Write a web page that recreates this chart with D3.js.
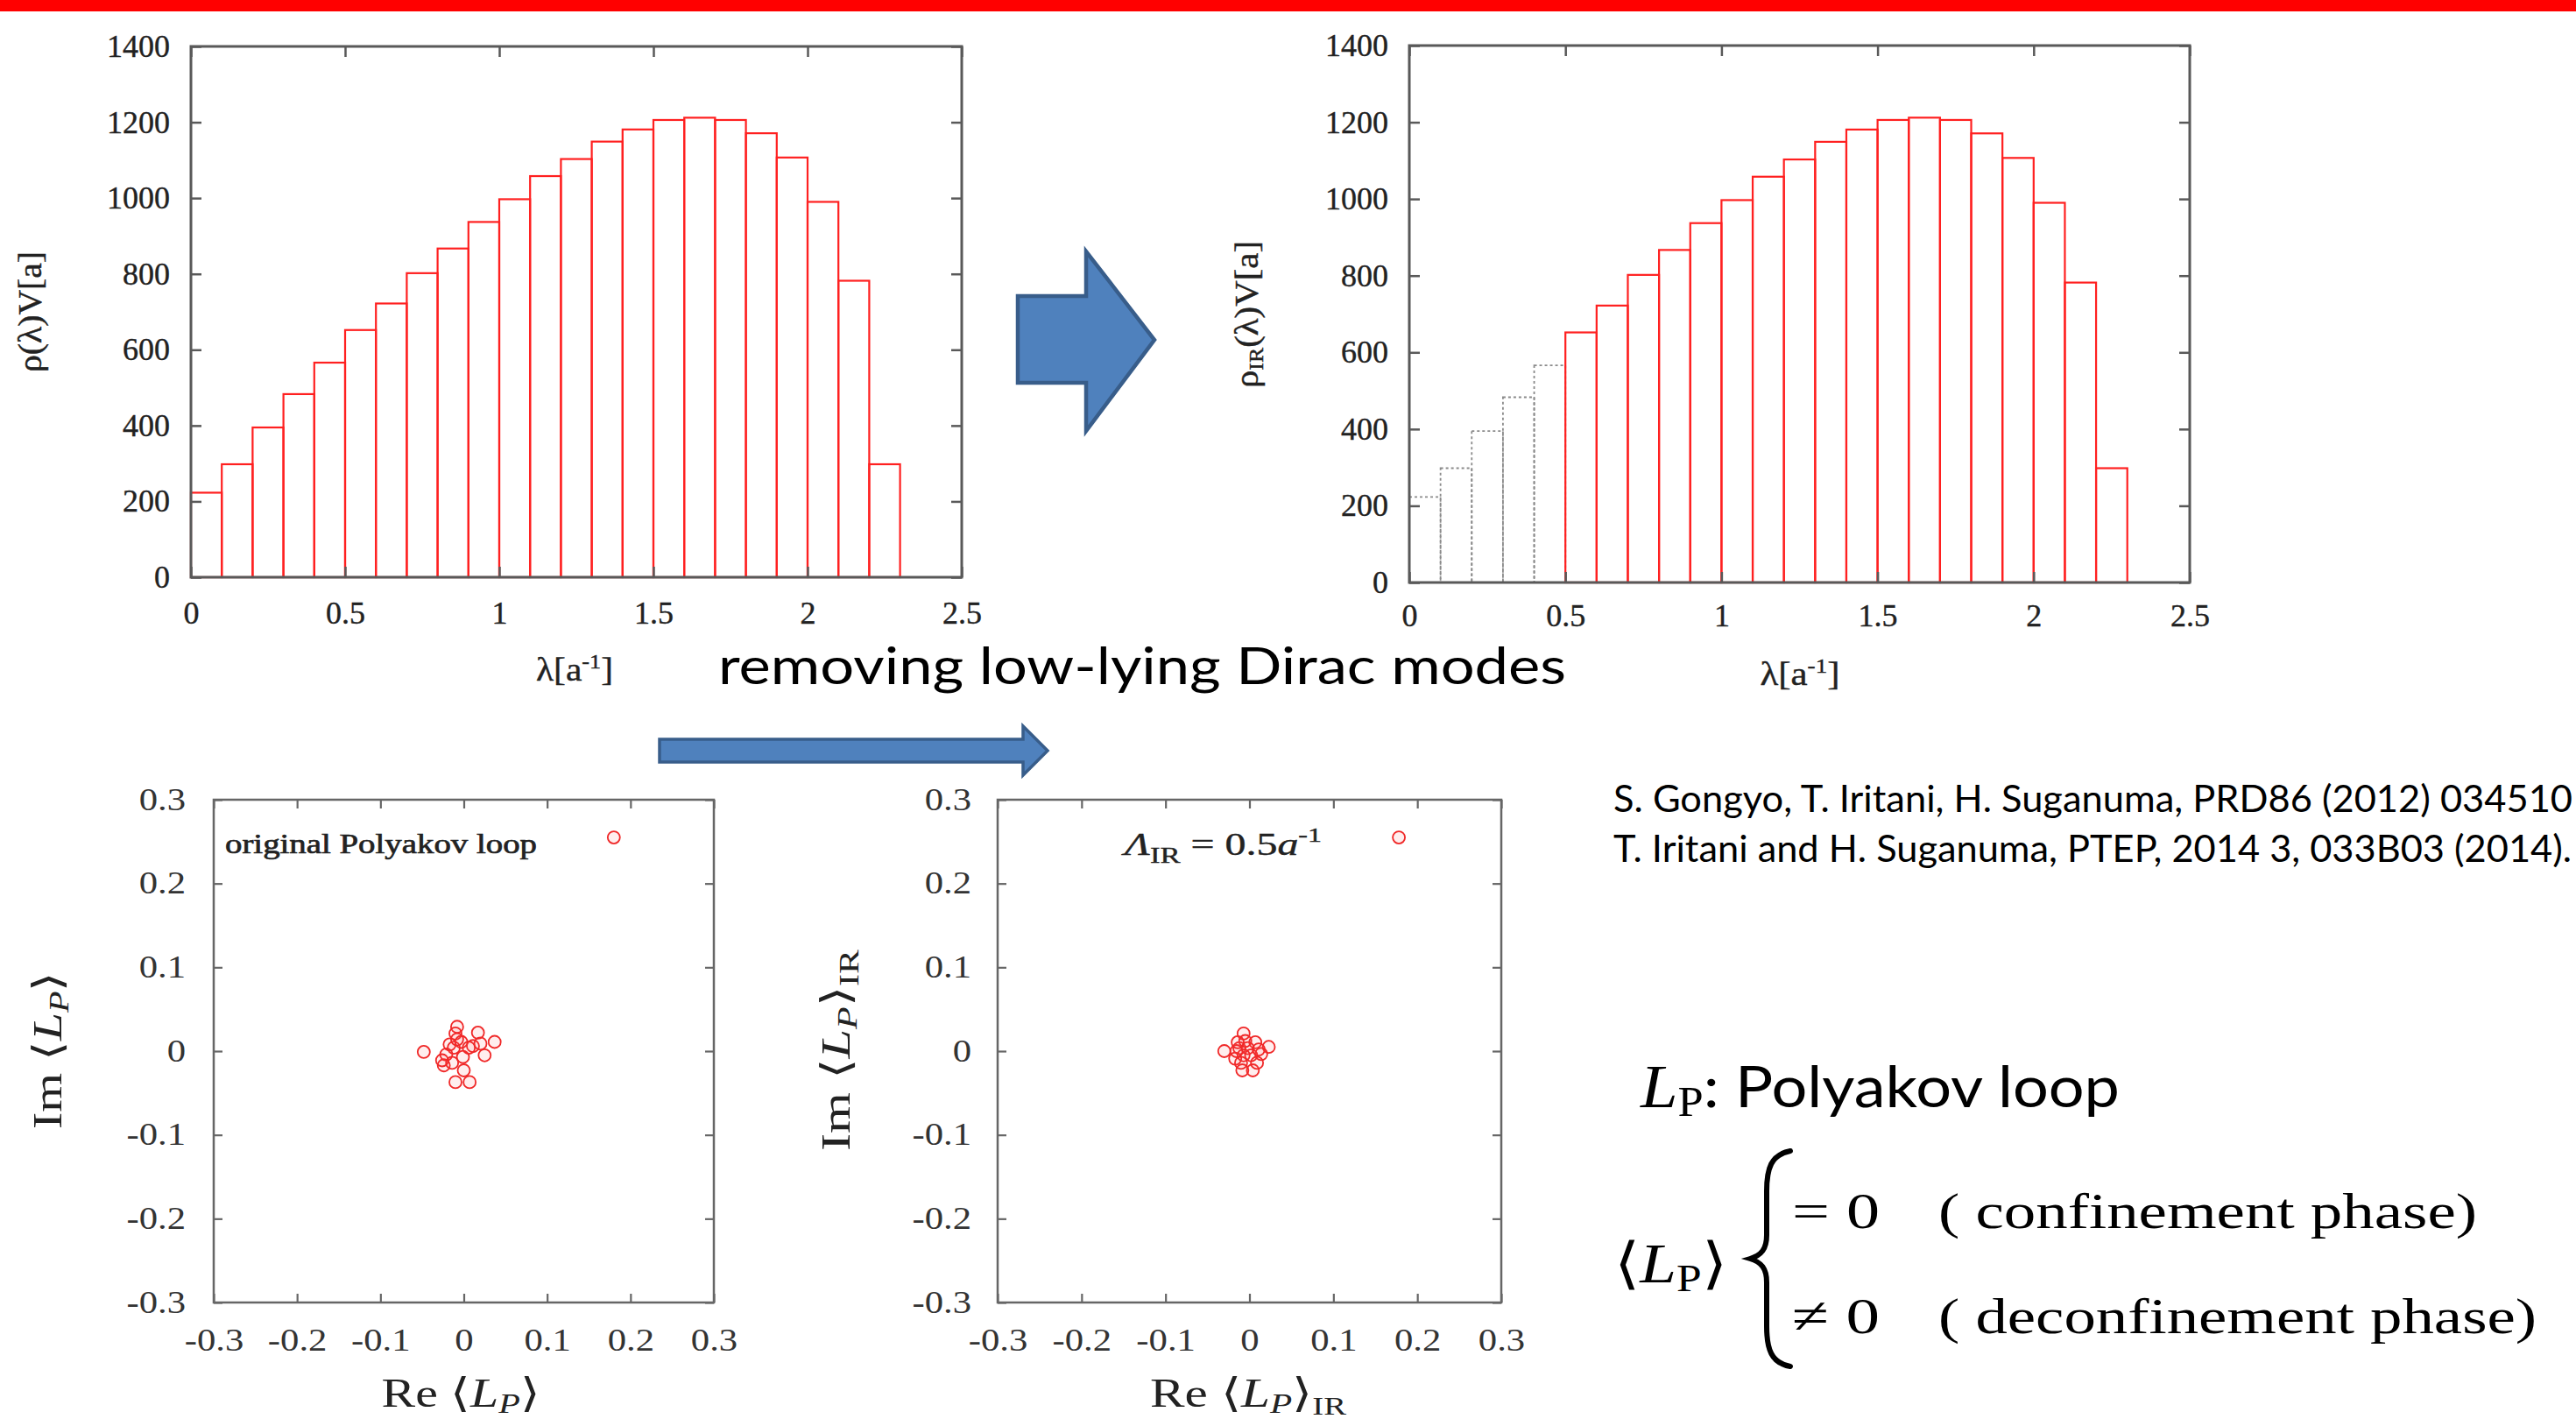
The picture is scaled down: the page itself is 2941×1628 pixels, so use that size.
<!DOCTYPE html>
<html><head><meta charset="utf-8">
<script src="https://cdn.jsdelivr.net/npm/d3@7"></script>
<style>body{margin:0;background:#fff;overflow:hidden}</style>
</head><body>
<svg id="c" width="2941" height="1628" xmlns="http://www.w3.org/2000/svg"></svg>
<script>
// ---------------- data ----------------
const binStarts = [0,0.1,0.2,0.3,0.4,0.5,0.6,0.7,0.8,0.9,1.0,1.1,1.2,1.3,1.4,1.5,1.6,1.7,1.8,1.9,2.0,2.1,2.2];
const rhoValues = [223,298,395,483,566,652,722,802,867,937,997,1058,1103,1149,1181,1206,1212,1206,1171,1107,990,782,298];
const binWidth = 0.1;
const irCutoff = 0.5;
const histXTicks = [0,0.5,1,1.5,2,2.5];
const histYTicks = [0,200,400,600,800,1000,1200,1400];
const scatterTicks = [-0.3,-0.2,-0.1,0,0.1,0.2,0.3];
// Polyakov loop per configuration: [Re, Im]
const loopOriginal = [
  [0.180,0.255],
  [-0.048,-0.001],[-0.008,0.029],[-0.010,0.021],[0.017,0.022],[0.037,0.011],
  [0.025,-0.005],[0.011,0.006],[-0.017,0.008],[-0.021,-0.004],[-0.024,-0.017],
  [-0.012,0.004],[-0.001,-0.007],[0.000,-0.023],[-0.010,-0.037],[0.007,-0.037],
  [-0.003,0.011],[-0.008,0.014],[0.006,0.004],[-0.014,-0.014],[0.020,0.009],[-0.026,-0.011]
];
const loopIR = [
  [0.178,0.255],
  [-0.030,0.000],[-0.007,0.021],[0.023,0.005],[0.004,-0.023],[-0.0085,-0.023],
  [-0.017,-0.009],[0.014,-0.0035],[0.007,0.0105],[-0.002,0.0035],[-0.012,0.0035],
  [-0.007,-0.005],[0.002,-0.005],[-0.0155,0.000],[-0.005,0.012],[0.009,-0.014],
  [-0.010,-0.014],[0.011,0.002],[-0.014,0.0105]
];

// ---------------- helpers ----------------
const svg = d3.select("#c");
const SERIF = "'Liberation Serif','Times New Roman',serif";
const SANS = "Lato,'Open Sans',sans-serif";
svg.append("rect").attr("width",2941).attr("height",1628).attr("fill","#fff");
svg.append("rect").attr("x",0).attr("y",0).attr("width",2941).attr("height",13).attr("fill","#ff0000");

function richText(parent, x, y, parts, opts) {
  const t = parent.append("text").attr("x", x).attr("y", y)
    .attr("font-family", opts.family || SERIF).attr("font-size", opts.size)
    .attr("fill", opts.fill || "#111").attr("text-anchor", opts.anchor || "start");
  if (opts.rotate) t.attr("transform", `rotate(${opts.rotate},${x},${y})`);
  if (opts.bold) t.attr("stroke", opts.fill || "#111").attr("stroke-width", opts.bold);
  parts.forEach(p => {
    const s = t.append("tspan").text(p.t);
    if (p.italic) s.attr("font-style","italic");
    if (p.size) s.attr("font-size", p.size);
    if (p.family) s.attr("font-family", p.family);
    if (p.dy) s.attr("dy", p.dy);
  });
  if (opts.len) t.attr("textLength", opts.len).attr("lengthAdjust","spacingAndGlyphs");
  return t;
}

// ---------------- histogram panels ----------------
function histogram(box, dashedBelowCut) {
  const g = svg.append("g");
  const x = d3.scaleLinear().domain([0,2.5]).range([box.l, box.r]);
  const y = d3.scaleLinear().domain([0,1400]).range([box.b, box.t]);
  const bins = binStarts.map((s,i)=>({s, v: rhoValues[i]}));
  const removed = d => dashedBelowCut && d.s < irCutoff - 1e-9;
  g.selectAll("rect.bar").data(bins).join("rect").attr("class","bar")
    .attr("x", d=>x(d.s)).attr("width", d=>x(d.s+binWidth)-x(d.s))
    .attr("y", d=>y(d.v)).attr("height", d=>y(0)-y(d.v))
    .attr("fill","none")
    .attr("stroke", d => removed(d) ? "#8a8a8a" : "#ff2020")
    .attr("stroke-width", d => removed(d) ? 1.8 : 2.2)
    .attr("stroke-dasharray", d => removed(d) ? "3,3" : null);
  g.append("rect").attr("x",box.l).attr("y",box.t).attr("width",box.r-box.l).attr("height",box.b-box.t)
    .attr("fill","none").attr("stroke","#595959").attr("stroke-width",3);
  const fmt = d => String(d);
  const style = sel => {
    sel.select(".domain").remove();
    sel.selectAll(".tick line").attr("stroke","#595959").attr("stroke-width",2.5);
    sel.selectAll("text").attr("font-family",SERIF).attr("font-size",36).attr("fill","#222")
      .attr("stroke","#222").attr("stroke-width",0.4);
    sel.attr("font-family",null).attr("font-size",null);
  };
  g.append("g").attr("transform",`translate(0,${box.b})`)
    .call(d3.axisBottom(x).tickValues(histXTicks).tickFormat(fmt).tickSizeInner(-12).tickSizeOuter(0).tickPadding(box.xpad)).call(style);
  g.append("g").attr("transform",`translate(0,${box.t})`)
    .call(d3.axisTop(x).tickValues(histXTicks).tickFormat("").tickSizeInner(-12).tickSizeOuter(0)).call(style);
  g.append("g").attr("transform",`translate(${box.l},0)`)
    .call(d3.axisLeft(y).tickValues(histYTicks).tickFormat(fmt).tickSizeInner(-12).tickSizeOuter(0).tickPadding(box.ypad)).call(style);
  g.append("g").attr("transform",`translate(${box.r},0)`)
    .call(d3.axisRight(y).tickValues(histYTicks).tickFormat("").tickSizeInner(-12).tickSizeOuter(0)).call(style);
  return g;
}

histogram({l:218, r:1098, t:53, b:659, xpad:27, ypad:24}, false);
histogram({l:1609, r:2500, t:52, b:665, xpad:24, ypad:24}, true);

// axis titles for histograms
richText(svg, 47, 356, [{t:"ρ(λ)V[a]"}], {size:38, anchor:"middle", rotate:-90, len:138, fill:"#222", bold:0.4});
richText(svg, 1436, 359, [{t:"ρ"},{t:"IR",size:24,dy:6},{t:"(λ)V[a]",dy:-6}], {size:38, anchor:"middle", rotate:-90, len:168, fill:"#222", bold:0.4});
richText(svg, 656, 777, [{t:"λ[a"},{t:"-1",size:24,dy:-14},{t:"]",dy:14}], {size:38, anchor:"middle", len:88, fill:"#222", bold:0.4});
richText(svg, 2055, 782, [{t:"λ[a"},{t:"-1",size:24,dy:-14},{t:"]",dy:14}], {size:38, anchor:"middle", len:91, fill:"#222", bold:0.4});

// ---------------- arrows ----------------
const arrowFill = "#4f81bd", arrowStroke = "#385d8a";
svg.append("polygon")
  .attr("points","1162,338 1240,338 1240,287 1318,388 1240,492 1240,437 1162,437")
  .attr("fill",arrowFill).attr("stroke",arrowStroke).attr("stroke-width",4.5).attr("stroke-linejoin","miter");
svg.append("polygon")
  .attr("points","753,844 1168,844 1168,829 1196,857 1168,885 1168,870 753,870")
  .attr("fill",arrowFill).attr("stroke",arrowStroke).attr("stroke-width",3.5);

richText(svg, 820, 781, [{t:"removing low-lying Dirac modes"}], {family:SANS, size:58, len:968, fill:"#000"});

// ---------------- scatter panels ----------------
function scatter(box, pts) {
  const g = svg.append("g");
  const x = d3.scaleLinear().domain([-0.3,0.3]).range([box.l, box.r]);
  const y = d3.scaleLinear().domain([-0.3,0.3]).range([box.b, box.t]);
  g.append("rect").attr("x",box.l).attr("y",box.t).attr("width",box.r-box.l).attr("height",box.b-box.t)
    .attr("fill","none").attr("stroke","#666").attr("stroke-width",2.5);
  const fmt = d => String(d);
  const style = sel => {
    sel.select(".domain").remove();
    sel.selectAll(".tick line").attr("stroke","#666").attr("stroke-width",2.2);
    sel.selectAll("text").attr("font-family",SERIF).attr("font-size",35).attr("fill","#333");
    sel.attr("font-family",null).attr("font-size",null);
  };
  const gx = g.append("g").attr("transform",`translate(0,${box.b})`)
    .call(d3.axisBottom(x).tickValues(scatterTicks).tickFormat(fmt).tickSizeInner(-10).tickSizeOuter(0).tickPadding(30)).call(style);
  g.append("g").attr("transform",`translate(0,${box.t})`)
    .call(d3.axisTop(x).tickValues(scatterTicks).tickFormat("").tickSizeInner(-10).tickSizeOuter(0)).call(style);
  const gy = g.append("g").attr("transform",`translate(${box.l},0)`)
    .call(d3.axisLeft(y).tickValues(scatterTicks).tickFormat(fmt).tickSizeInner(-10).tickSizeOuter(0).tickPadding(box.ypad)).call(style);
  g.append("g").attr("transform",`translate(${box.r},0)`)
    .call(d3.axisRight(y).tickValues(scatterTicks).tickFormat("").tickSizeInner(-10).tickSizeOuter(0)).call(style);
  [gx, gy].forEach(a => a.selectAll("text").each(function(){
    const w = this.getComputedTextLength();
    d3.select(this).attr("textLength", w*1.22).attr("lengthAdjust","spacingAndGlyphs");
  }));
  g.selectAll("circle").data(pts).join("circle")
    .attr("cx", d=>x(d[0])).attr("cy", d=>y(d[1])).attr("r",7)
    .attr("fill","rgba(255,90,90,0.10)").attr("stroke","#f02828").attr("stroke-width",1.8);
  return g;
}
scatter({l:244, r:815, t:913, b:1487, ypad:32}, loopOriginal);
scatter({l:1139, r:1714, t:913, b:1487, ypad:30}, loopIR);

richText(svg, 257, 974, [{t:"original Polyakov loop"}], {size:32, len:356, fill:"#222", bold:0.7});
richText(svg, 1284, 976, [{t:"Λ",italic:true},{t:"IR",size:26,dy:9},{t:" = 0.5",dy:-9},{t:"a",italic:true},{t:"-1",size:24,dy:-15}], {size:36, len:225, fill:"#222", bold:0.4});

// scatter axis titles
richText(svg, 526, 1606, [{t:"Re ⟨"},{t:"L",italic:true},{t:"P",italic:true,size:32,dy:7},{t:"⟩",dy:-7}], {size:46, anchor:"middle", len:181, fill:"#222"});
richText(svg, 1425, 1606, [{t:"Re ⟨"},{t:"L",italic:true},{t:"P",italic:true,size:32,dy:7},{t:"⟩",dy:-7},{t:"IR",size:30,dy:9}], {size:46, anchor:"middle", len:224, fill:"#222"});
richText(svg, 70, 1199, [{t:"Im ⟨"},{t:"L",italic:true},{t:"P",italic:true,size:32,dy:8},{t:"⟩",dy:-8}], {size:46, anchor:"middle", rotate:-90, len:180, fill:"#222"});
richText(svg, 970, 1199, [{t:"Im ⟨"},{t:"L",italic:true},{t:"P",italic:true,size:32,dy:8},{t:"⟩",dy:-8},{t:"IR",size:32,dy:10}], {size:46, anchor:"middle", rotate:-90, len:230, fill:"#222"});

// ---------------- right-hand notes ----------------
richText(svg, 1842, 927, [{t:"S. Gongyo, T. Iritani, H. Suganuma, PRD86 (2012) 034510"}], {family:SANS, size:42, len:1095, fill:"#000"});
richText(svg, 1842, 984, [{t:"T. Iritani and H. Suganuma, PTEP, 2014 3, 033B03 (2014)."}], {family:SANS, size:42, len:1094, fill:"#000"});

richText(svg, 1873, 1264, [{t:"L",italic:true,family:SERIF,size:70},{t:"P",family:SERIF,size:48,dy:10},{t:": Polyakov loop",dy:-10}], {family:SANS, size:66, len:547, fill:"#000"});

richText(svg, 1843, 1464, [{t:"⟨"},{t:"L",italic:true},{t:"P",size:44,dy:10},{t:"⟩",dy:-10}], {size:64, len:129, fill:"#000"});
svg.append("path")
  .attr("d","M2044,1314 C2022,1318 2017,1334 2017,1360 L2017,1410 C2017,1426 2011,1433 1998,1437 C2011,1441 2017,1448 2017,1464 L2017,1514 C2017,1540 2022,1556 2044,1560")
  .attr("fill","none").attr("stroke","#000").attr("stroke-width",6).attr("stroke-linecap","round");
richText(svg, 2046, 1402, [{t:"= 0"}], {size:58, len:100, fill:"#000"});
richText(svg, 2213, 1402, [{t:"( confinement phase)"}], {size:58, len:615, fill:"#000"});
richText(svg, 2046, 1522, [{t:"≠ 0"}], {size:58, len:100, fill:"#000"});
richText(svg, 2213, 1522, [{t:"( deconfinement phase)"}], {size:58, len:683, fill:"#000"});
</script>
</body></html>
